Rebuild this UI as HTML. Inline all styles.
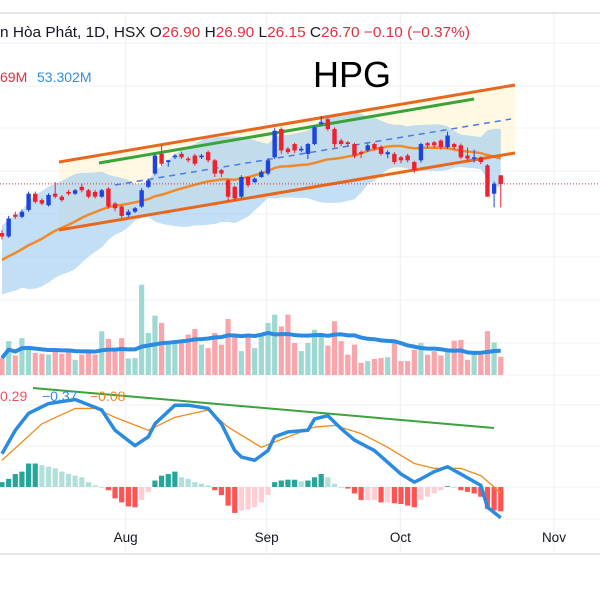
<!DOCTYPE html>
<html><head><meta charset="utf-8"><style>
html,body{margin:0;padding:0;background:#fff;}
svg{display:block;font-family:"Liberation Sans",sans-serif;}
</style></head><body>
<svg id="chart" width="600" height="600" viewBox="0 0 600 600">
  <g id="grid"></g>
  <g id="overlay"></g>
  <g id="band"></g>
  <g id="lines"></g>
  <g id="candles"></g>
  <g id="volume"></g>
  <g id="macd"></g>
  <text x="0" y="37" font-size="15" textLength="470" lengthAdjust="spacingAndGlyphs"><tspan fill="#131722">n Hòa Phát, 1D, HSX  O</tspan><tspan fill="#e0303f">26.90</tspan><tspan fill="#131722">  H</tspan><tspan fill="#e0303f">26.90</tspan><tspan fill="#131722">  L</tspan><tspan fill="#e0303f">26.15</tspan><tspan fill="#131722">  C</tspan><tspan fill="#e0303f">26.70  −0.10 (−0.37%)</tspan></text>
  <text x="0" y="82" font-size="14" fill="#e0303f">69M</text>
  <text x="37" y="82" font-size="14" fill="#2f8fe0">53.302M</text>
  <text x="352" y="87" font-size="36" fill="#000" text-anchor="middle">HPG</text>
  <text x="0" y="401" font-size="14" fill="#f05060">0.29</text>
  <text x="42" y="401" font-size="14" fill="#2f8fe0">−0.37</text>
  <text x="90" y="401" font-size="14" fill="#f08a1c">−0.08</text>
</svg>
<script>
const opens=[25.55,25.47,25.98,25.93,26.09,26.47,26.32,26.20,26.47,26.40,26.51,26.47,26.63,26.55,26.51,26.40,26.59,26.24,26.17,25.97,26.05,26.17,26.63,26.94,27.40,27.21,27.32,27.40,27.29,27.36,27.32,27.44,27.25,27.02,26.78,26.63,26.40,26.86,26.74,26.86,26.94,27.32,27.98,27.52,27.63,27.48,27.40,27.63,28.10,28.21,27.98,27.71,27.67,27.63,27.44,27.48,27.63,27.56,27.39,27.40,27.32,27.36,27.21,27.25,27.65,27.67,27.71,27.56,27.63,27.60,27.36,27.29,27.32,27.13,26.47,26.90];
const closes=[25.47,25.89,25.93,26.05,26.47,26.28,26.24,26.44,26.40,26.32,26.47,26.55,26.55,26.40,26.40,26.55,26.17,26.13,25.95,26.05,26.13,26.55,26.78,27.36,27.17,27.25,27.36,27.32,27.25,27.17,27.36,27.25,26.94,26.94,26.40,26.36,26.86,26.67,26.82,26.98,27.25,27.94,27.48,27.44,27.48,27.52,27.63,28.02,28.14,27.98,27.63,27.63,27.63,27.36,27.40,27.60,27.52,27.40,27.44,27.21,27.25,27.25,27.02,27.63,27.60,27.60,27.56,27.83,27.56,27.32,27.29,27.32,27.21,26.40,26.70,26.70];
const highs=[25.62,25.95,26.05,26.10,26.52,26.52,26.36,26.48,26.74,26.44,26.56,26.58,26.70,26.58,26.56,26.58,26.62,26.28,26.20,26.10,26.16,26.60,26.82,27.40,27.60,27.26,27.40,27.45,27.33,27.40,27.40,27.48,27.28,27.05,26.82,26.66,26.90,26.88,26.85,27.02,27.30,28.00,28.02,27.56,27.66,27.58,27.66,28.06,28.28,28.24,28.02,27.75,27.70,27.66,27.48,27.64,27.66,27.60,27.48,27.44,27.35,27.40,27.24,27.66,27.68,27.70,27.74,27.92,27.66,27.64,27.55,27.50,27.34,27.16,26.75,26.90];
const lows=[25.40,25.44,25.88,25.90,26.05,26.24,26.20,26.17,26.36,26.28,26.43,26.44,26.50,26.36,26.36,26.37,26.12,26.06,25.90,25.92,26.02,26.14,26.60,26.90,27.12,27.10,27.28,27.28,27.20,27.12,27.28,27.20,26.86,26.86,26.30,26.30,26.36,26.62,26.72,26.84,26.90,27.28,27.40,27.40,27.42,27.44,27.28,27.60,28.06,27.94,27.55,27.58,27.56,27.30,27.30,27.44,27.48,27.36,27.30,27.16,27.18,27.20,26.96,27.20,27.54,27.54,27.50,27.52,27.50,27.28,27.24,27.20,27.16,26.40,26.15,26.15];
const priorCloses=[24.2,24.4,24.3,24.6,24.8,24.7,24.5,24.6,24.9,25.1,25.0,24.8,25.0,25.2,25.3,25.1,25.4,25.6,25.5];
const volumes=[39,78,45,85,66,51,49,47,58,49,58,35,47,55,47,101,83,62,85,38,39,208,97,137,120,74,78,81,93,106,70,62,97,70,129,89,55,93,62,97,120,139,112,139,74,55,74,104,97,68,124,78,47,70,28,32,37,39,41,78,32,32,58,74,47,55,45,55,79,81,35,55,55,101,75,42];
const macdIdx=[0,2,4,7,11,15,17,20,22,23,26,28,31,33,35,36,38,40,41,43,46,47,49,51,53,56,60,62,63,65,67,69,72,73,75];
const macdVals=[0.41,0.70,0.91,1.03,1.08,0.95,0.70,0.51,0.62,0.78,1.01,1.01,0.97,0.78,0.45,0.37,0.33,0.45,0.62,0.68,0.70,0.84,0.88,0.72,0.58,0.45,0.16,0.06,0.10,0.19,0.25,0.16,0.02,-0.25,-0.38];
const signalIdx=[0,6,11,14,17,22,26,31,34,39,43,47,50,54,58,62,65,69,72,74,75];
const signalVals=[0.33,0.78,0.97,0.97,0.86,0.70,0.86,0.95,0.74,0.49,0.62,0.74,0.76,0.66,0.49,0.29,0.23,0.23,0.14,0.0,-0.08];
const hist=[0.06,0.10,0.16,0.19,0.29,0.29,0.27,0.25,0.23,0.19,0.16,0.14,0.12,0.06,0.02,0,-0.04,-0.14,-0.19,-0.24,-0.25,-0.16,-0.06,0.08,0.14,0.16,0.19,0.12,0.10,0.06,0.04,0.02,-0.04,-0.10,-0.23,-0.32,-0.29,-0.28,-0.25,-0.19,-0.10,0.06,0.08,0.09,0.09,0.07,0.08,0.12,0.16,0.12,0.04,0,-0.02,-0.08,-0.16,-0.16,-0.16,-0.19,-0.19,-0.20,-0.21,-0.23,-0.25,-0.16,-0.12,-0.08,-0.04,0.01,0,-0.04,-0.06,-0.08,-0.12,-0.27,-0.29,-0.30];
const monthLabels=["Aug","Sep","Oct","Nov"];
const monthIdx=[18.6,39.8,59.9,83];
const lastClose=26.70;

const NS="http://www.w3.org/2000/svg";
function mk(tag,attrs,parent){const e=document.createElementNS(NS,tag);for(const k in attrs)e.setAttribute(k,attrs[k]);parent.appendChild(e);return e;}
const X=i=>2+i*6.65;
const Y=p=>171-(p-27)*42.8;
const VY=v=>375-v*0.434;
const MY=v=>487-v*81;
const G=id=>document.getElementById(id);

const grid=G('grid');
[43,86,128,171,214,257,300,343,375,405,446,487,519].forEach(y=>{const l=mk('line',{x1:0,x2:600,y1:y,y2:y,stroke:'#eef0f3','stroke-width':1},grid);});
monthIdx.forEach((m,k)=>{const x=X(m);const l=mk('line',{x1:x,x2:x,y1:13,y2:554,stroke:'#eef0f3','stroke-width':1},grid);
 const t=mk('text',{x:x,y:542,'font-size':13.5,fill:'#131722','text-anchor':'middle'},grid);t.textContent=monthLabels[k];});
[13,554].forEach(y=>{const l=mk('line',{x1:0,x2:600,y1:y,y2:y,stroke:'#e4e6ea','stroke-width':2},grid);});

const ov=G('overlay');
const ch=mk('polygon',{points:'59,162 515,85 515,153 59,230',fill:'#fff6dc','fill-opacity':0.8},ov);


const all=priorCloses.concat(closes);const P=priorCloses.length;
const ma=[],up=[],lo=[];
for(let i=0;i<closes.length;i++){const w=all.slice(i+P-19,i+P+1);const m=w.reduce((a,b)=>a+b,0)/w.length;const sd=Math.sqrt(w.reduce((a,b)=>a+(b-m)*(b-m),0)/w.length);ma.push(m);up.push(m+2*sd);lo.push(m-2*sd);}
const band=G('band');
let bp=up.map((v,i)=>X(i)+','+Y(v)).join(' ')+' '+lo.map((v,i)=>X(i)+','+Y(v)).reverse().join(' ');
const bf=mk('polygon',{points:bp,fill:'#9ccbf0','fill-opacity':0.62},band);

const ml=mk('polyline',{points:ma.map((v,i)=>X(i)+','+Y(v)).join(' '),fill:'none',stroke:'#f0892a','stroke-width':2.5},band);


const ln=G('lines');
function tl(x1,y1,x2,y2,c,w,name,dash){const l=mk('line',{x1,y1,x2,y2,stroke:c,'stroke-width':w},ln);if(dash)l.setAttribute('stroke-dasharray',dash);}
tl(59,162,515,85,'#e8671e',3,'channel-upper');
tl(59,230,515,153,'#e8671e',3,'channel-lower');
tl(99,163,474,99,'#3aa33a',3,'green-trendline');
tl(115,185,511,119,'#4a7be8',1.5,'channel-midline','6,5');
const pl=mk('line',{x1:0,x2:600,y1:Y(lastClose),y2:Y(lastClose),stroke:'#e0303f','stroke-width':1,'stroke-dasharray':'1,2'},ln);


const cg=G('candles');
closes.forEach((c,i)=>{const o=opens[i];const col=c>=o?'#1c45e0':'#f0202f';const x=X(i);
 const w=mk('line',{x1:x,x2:x,y1:Y(highs[i]),y2:Y(lows[i]),stroke:col,'stroke-width':1},cg);
 
 const t=Math.min(Y(o),Y(c));const h=Math.max(1.5,Math.abs(Y(o)-Y(c)));
 const r=mk('rect',{x:x-2.2,y:t,width:4.4,height:h,fill:col},cg);
 });

const vg=G('volume');
volumes.forEach((v,i)=>{const col=closes[i]>=opens[i]?'#9ed8d2':'#f8a5ab';
 const r=mk('rect',{x:X(i)-2.6,y:VY(v),width:5.2,height:375-VY(v),fill:col},vg);
 });
const vma=volumes.map((v,i)=>{const w=volumes.slice(Math.max(0,i-19),i+1);return w.reduce((a,b)=>a+b,0)/w.length;});
const vl=mk('polyline',{points:vma.map((v,i)=>X(i)+','+VY(v)).join(' '),fill:'none',stroke:'#2a8be0','stroke-width':4,'stroke-linejoin':'round'},vg);


const mg=G('macd');
hist.forEach((h,i)=>{const prev=i>0?hist[i-1]:0;let col;
 if(h>=0)col=h>=prev?'#26a69a':'#b2dfdb';else col=h<prev?'#ff5252':'#ffcdd2';
 const r=mk('rect',{x:X(i)-2.6,y:Math.min(MY(h),487),width:5.2,height:Math.max(0.8,Math.abs(MY(h)-487)),fill:col},mg);
 });
const sl=mk('polyline',{points:signalIdx.map((k,j)=>X(k)+','+MY(signalVals[j])).join(' '),fill:'none',stroke:'#f08a1c','stroke-width':1.3,'stroke-linejoin':'round'},mg);

const mlin=mk('polyline',{points:macdIdx.map((k,j)=>X(k)+','+MY(macdVals[j])).join(' '),fill:'none',stroke:'#2a8be0','stroke-width':3.5,'stroke-linejoin':'round'},mg);

const gt=mk('line',{x1:33,y1:388,x2:494,y2:428,stroke:'#3aa33a','stroke-width':2},mg);

</script>
</body></html>
